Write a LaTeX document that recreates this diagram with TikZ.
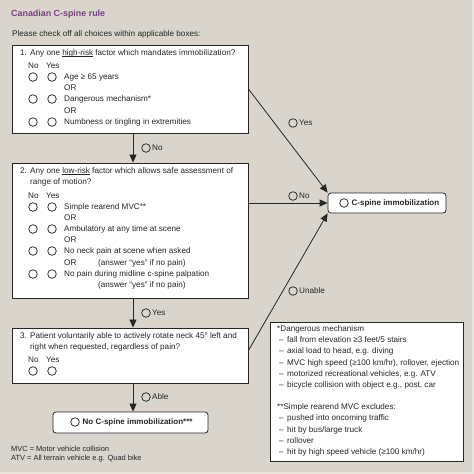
\documentclass[tikz,border=0pt]{standalone}
\usepackage{fontspec}
\setmainfont{Liberation Sans}
\usetikzlibrary{arrows.meta, positioning, calc}

\definecolor{bgbeige}{RGB}{217,213,204}
\definecolor{bgedge}{RGB}{232,230,224}
\definecolor{titlepurple}{RGB}{122,62,140}
\definecolor{inkgray}{RGB}{38,38,38}

\newcommand{\riskline}[1]{\setbox0\hbox{#1}\rlap{\rule[-1.2pt]{\wd0}{0.45pt}}\box0\relax}

\tikzset{
    qbox/.style={draw=inkgray, line width=0.9pt, fill=white, rectangle, inner sep=0pt},
    endbox/.style={draw=inkgray, line width=0.8pt, fill=white, rectangle, rounded corners=3pt, inner sep=0pt},
    txt/.style={anchor=west, inner sep=0pt, text height=5.9pt, text depth=1.6pt, text=inkgray, font=\fontsize{8.15}{9.5}\selectfont},
    boldtxt/.style={txt, font=\fontsize{8}{9.5}\selectfont\bfseries},
    chk/.style={draw=inkgray, line width=0.75pt, circle, minimum size=8.6pt, inner sep=0pt},
    flow/.style={draw=inkgray, line width=0.8pt, -{Triangle[length=8pt,width=7pt]}}
}

\begin{document}
\begin{tikzpicture}[x=1pt, y=-1pt]
    \useasboundingbox (0,0) rectangle (474,474);
    \fill[bgedge] (0,0) rectangle (474,474);
    \fill[bgbeige] (0,0) rectangle (472,472);

    % Heading
    \node[txt, text=titlepurple, font=\fontsize{8.9}{10}\selectfont\bfseries] (title) at (11,14) {Canadian C-spine rule};
    \node[txt] (intro) at (12,34) {Please check off all choices within applicable boxes:};

    % Question boxes
    \node[qbox, minimum width=236pt, minimum height=88pt] (q1) at (130,89) {};
    \node[qbox, minimum width=236pt, minimum height=135pt] (q2) at (130,230.5) {};
    \node[qbox, minimum width=236pt, minimum height=55pt] (q3) at (130,355.5) {};

    % Outcome boxes
    \node[endbox, minimum width=118pt, minimum height=20pt] (cspine) at (387,203) {};
    \node[endbox, minimum width=155pt, minimum height=21pt] (nospine) at (130.5,422.5) {};
    \node[chk] (cspinechk) at (344,203) {};
    \node[boldtxt] (cspinetxt) at (351.5,203) {C-spine immobilization};
    \node[chk] (nospinechk) at (75,422) {};
    \node[boldtxt] (nospinetxt) at (82.5,422) {No C-spine immobilization***};

    % Question 1
    \node[txt] (q1head) at (20,53) {\makebox[10pt][l]{1.}Any one \riskline{high-risk} factor which mandates immobilization?};
    \node[txt] (q1no) at (28,66) {No};
    \node[txt] (q1yes) at (46,66) {Yes};
    \foreach \y [count=\i] in {77,99,122} {
        \node[chk] (q1n\i) at (33,\y) {};
        \node[chk] (q1y\i) at (52,\y) {};
    }
    \node[txt] (q1a) at (64,77) {Age ≥ 65 years};
    \node[txt] (q1or1) at (64,88) {OR};
    \node[txt] (q1b) at (64,99) {Dangerous mechanism*};
    \node[txt] (q1or2) at (64,111) {OR};
    \node[txt] (q1c) at (64,122) {Numbness or tingling in extremities};

    % Question 2
    \node[txt] (q2head) at (20,171) {\makebox[10pt][l]{2.}Any one \riskline{low-risk} factor which allows safe assessment of};
    \node[txt] (q2head2) at (30,182) {range of motion?};
    \node[txt] (q2no) at (28,196) {No};
    \node[txt] (q2yes) at (46,196) {Yes};
    \foreach \y [count=\i] in {207,229,251,274} {
        \node[chk] (q2n\i) at (33,\y) {};
        \node[chk] (q2y\i) at (52,\y) {};
    }
    \node[txt] (q2a) at (64,207) {Simple rearend MVC**};
    \node[txt] (q2or1) at (64,218) {OR};
    \node[txt] (q2b) at (64,229) {Ambulatory at any time at scene};
    \node[txt] (q2or2) at (64,240) {OR};
    \node[txt] (q2c) at (64,251) {No neck pain at scene when asked};
    \node[txt] (q2or3) at (64,263) {OR};
    \node[txt] (q2cnote) at (98,263) {(answer “yes” if no pain)};
    \node[txt] (q2d) at (64,274) {No pain during midline c-spine palpation};
    \node[txt] (q2dnote) at (98,285) {(answer “yes” if no pain)};

    % Question 3
    \node[txt] (q3head) at (20,336) {\makebox[10pt][l]{3.}Patient voluntarily able to actively rotate neck 45° left and};
    \node[txt] (q3head2) at (30,347) {right when requested, regardless of pain?};
    \node[txt] (q3no) at (28,360) {No};
    \node[txt] (q3yes) at (46,360) {Yes};
    \node[chk] (q3n1) at (33,371) {};
    \node[chk] (q3y1) at (52,371) {};

    % Arrows
    \draw[flow] ([xshift=3pt]q1.south) -- ([xshift=3pt]q2.north);
    \draw[flow] ([xshift=3pt]q2.south) -- ([xshift=3pt]q3.north);
    \draw[flow] ([xshift=3pt]q3.south) -- ([xshift=3pt]q3.south |- nospine.north);
    \draw[flow] (q1.east) -- (cspine.north west);
    \draw[flow] (q2.east |- cspine.west) -- (cspine.west);
    \draw[flow] ([yshift=5pt]q3.east) -- (cspine.south west);

    % Arrow labels
    \node[chk] (nochk1) at (146,148) {};
    \node[txt] (nolbl1) at (152,148) {No};
    \node[chk] (yeschk2) at (146,313) {};
    \node[txt] (yeslbl2) at (152,313) {Yes};
    \node[chk] (ablechk) at (146,397) {};
    \node[txt] (ablelbl) at (152,397) {Able};
    \node[chk] (yeschk1) at (293,123) {};
    \node[txt] (yeslbl1) at (299,123) {Yes};
    \node[chk] (nochk2) at (293,196) {};
    \node[txt] (nolbl2) at (299,196) {No};
    \node[chk] (unablechk) at (293,291) {};
    \node[txt] (unablelbl) at (299,291) {Unable};

    % Footnote box
    \node[qbox, minimum width=193pt, minimum height=139pt] (notes) at (366.5,391.5) {};
    \node[txt] (dmhead) at (277,329) {*Dangerous mechanism};
    \foreach \y/\item [count=\i] in {340/{fall from elevation ≥3 feet/5 stairs},
                                    351/{axial load to head, e.g. diving},
                                    363/{MVC high speed (≥100 km/hr), rollover, ejection},
                                    374/{motorized recreational vehicles, e.g. ATV},
                                    385/{bicycle collision with object e.g., post, car}} {
        \node[txt] (dmdash\i) at (279,\y) {–};
        \node[txt] (dm\i) at (287,\y) {\item};
    }
    \node[txt] (srhead) at (277,407) {**Simple rearend MVC excludes:};
    \foreach \y/\item [count=\i] in {418/{pushed into oncoming traffic},
                                    430/{hit by bus/large truck},
                                    441/{rollover},
                                    452/{hit by high speed vehicle (≥100 km/hr)}} {
        \node[txt] (srdash\i) at (279,\y) {–};
        \node[txt] (sr\i) at (287,\y) {\item};
    }

    % Abbreviations
    \node[txt, font=\fontsize{7.45}{8.5}\selectfont] (mvc) at (11,449) {MVC = Motor vehicle collision};
    \node[txt, font=\fontsize{7.45}{8.5}\selectfont] (atv) at (11,458) {ATV = All terrain vehicle e.g. Quad bike};
\end{tikzpicture}
\end{document}
